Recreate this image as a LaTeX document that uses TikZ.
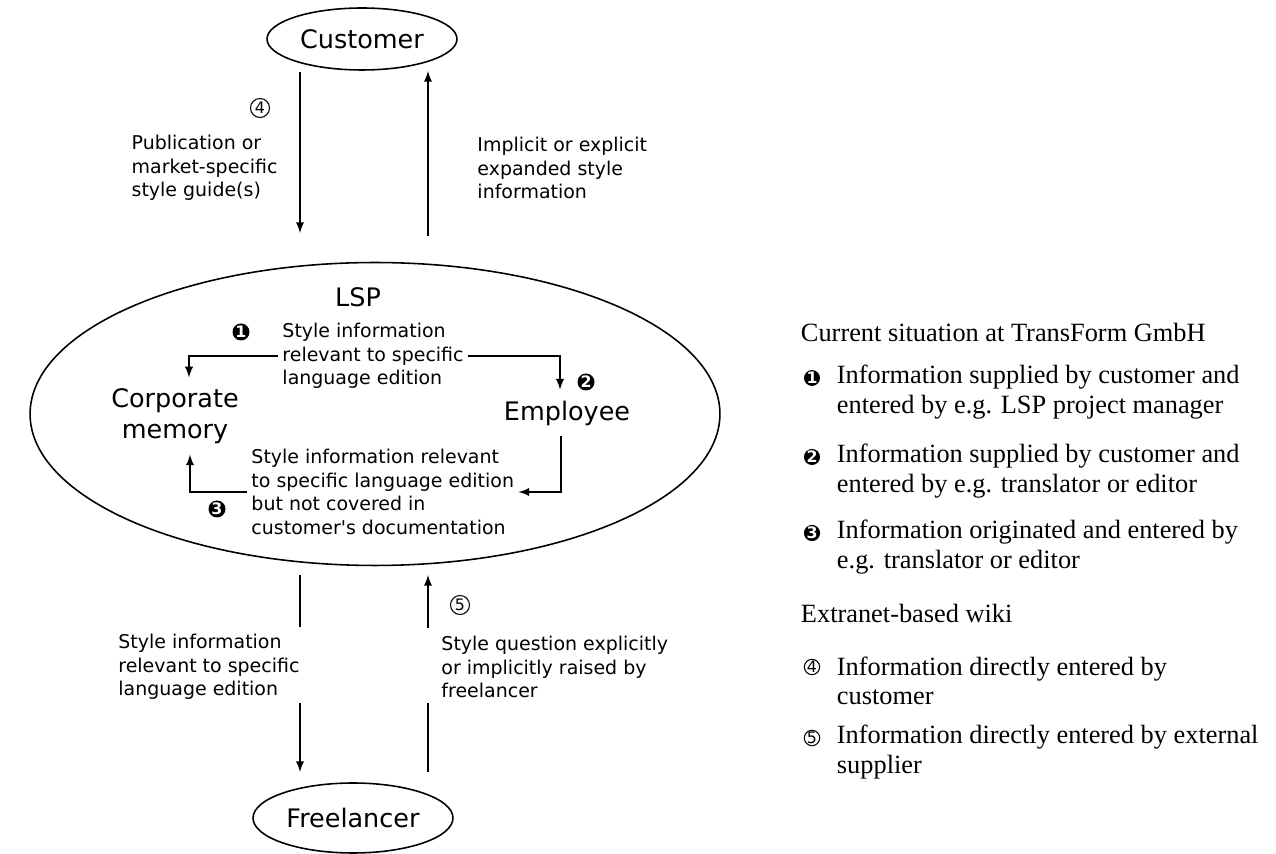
\documentclass[tikz,border=0pt]{standalone}
\usepackage{fontspec}
\setmainfont{Liberation Serif}
\newfontfamily\diagfont{DejaVu Sans}
\usepackage{tikz}
\usetikzlibrary{shapes.geometric}

\begin{document}
\begin{tikzpicture}[x=0.02cm, y=-0.02cm, >=latex, line width=1.1pt,
  party/.style={ellipse, draw, line width=0.9pt, inner sep=0pt, font=\diagfont\fontsize{14.5}{17.6}\selectfont},
  unit/.style={align=center, inner sep=0.2cm, font=\diagfont\fontsize{14.5}{17.6}\selectfont},
  note/.style={align=left, inner sep=2pt, font=\diagfont\fontsize{10.8}{13.4}\selectfont},
  darknum/.style={circle, fill=black, text=white, inner sep=0pt, minimum size=0.34cm, font=\diagfont\bfseries\fontsize{9}{9}\selectfont},
  lightnum/.style={circle, draw, line width=0.6pt, inner sep=0pt, minimum size=0.38cm, font=\diagfont\fontsize{9}{9}\selectfont},
  legend/.style={anchor=west, align=left, inner sep=0pt, font=\fontsize{15}{16.7}\selectfont}]
\useasboundingbox (0,0) rectangle (1276,854);

% the three parties
\node [party, minimum width=3.8cm, minimum height=1.24cm] (cust) at (362,39) {Customer};
\node [party, minimum width=13.8cm, minimum height=6.06cm] (lsp) at (375,414) {};
\node [party, minimum width=4cm, minimum height=1.4cm] (free) at (353,818) {Freelancer};
\node [unit, inner sep=0pt] (lsplabel) at (358,297) {LSP};

% inside the LSP
\node [unit] (corp) at (175,416) {Corporate\\memory};
\node [unit] (emp) at (567,413) {Employee};
\node [note, anchor=west] (info1) at (278,356) {Style information\\relevant to specific\\language edition};
\node [note, anchor=west] (info3) at (247,492) {Style information relevant\\to specific language edition\\but not covered in\\customer's documentation};
\node [darknum] (n1) at (241,332) {1};
\node [darknum] (n2) at (586,382) {2};
\node [darknum] (n3) at (217,509) {3};
\draw [->] (info1.west) -| ([xshift=0.28cm]corp.north);
\draw [->] (info1.east) -| ([xshift=-0.14cm]emp.north);
\draw [->] ([xshift=-0.12cm]emp.south) |- (info3.east);
\draw [->] (info3.west) -| ([xshift=0.3cm]corp.south);

% customer and LSP
\coordinate (a1) at (300,72);
\coordinate (a2) at (300,233);
\coordinate (b1) at (428,236);
\coordinate (b2) at (428,71);
\draw [->] (a1) -- (a2);
\draw [->] (b1) -- (b2);
\node [lightnum] (n4) at (260,108) {4};
\node [note, anchor=east] (pub) at (282,168) {Publication or\\market-specific\\style guide(s)};
\node [note, anchor=west] (impl) at (473,168) {Implicit or explicit\\expanded style\\information};

% LSP and freelancer
\coordinate (c1) at (300,575);
\coordinate (c2) at (300,627);
\coordinate (c3) at (300,703);
\coordinate (c4) at (300,772);
\draw (c1) -- (c2);
\draw [->] (c3) -- (c4);
\coordinate (d1) at (428,772);
\coordinate (d2) at (428,703);
\coordinate (d3) at (428,628);
\coordinate (d4) at (428,575);
\draw (d1) -- (d2);
\draw [->] (d3) -- (d4);
\node [lightnum] (n5) at (460,605) {5};
\node [note, anchor=east] (rel) at (304,667) {Style information\\relevant to specific\\language edition};
\node [note, anchor=west] (quest) at (437,667) {Style question explicitly\\or implicitly raised by\\freelancer};

% key
\node [legend] (cur) at (800,332) {Current situation at TransForm GmbH};
\node [darknum, minimum size=0.3cm] (k1) at (812,378) {1};
\node [legend] (t1) at (836,392) {Information supplied by customer and\\entered by e.g. LSP project manager};
\node [darknum, minimum size=0.3cm] (k2) at (812,457) {2};
\node [legend] (t2) at (836,471) {Information supplied by customer and\\entered by e.g. translator or editor};
\node [darknum, minimum size=0.3cm] (k3) at (812,533) {3};
\node [legend] (t3) at (836,547) {Information originated and entered by\\e.g. translator or editor};
\node [legend] (ext) at (800,613) {Extranet-based wiki};
\node [lightnum, minimum size=0.3cm] (k4) at (812,667) {4};
\node [legend] (t4) at (836,681) {Information directly entered by\\customer};
\node [lightnum, minimum size=0.3cm] (k5) at (812,738) {5};
\node [legend] (t5) at (836,752) {Information directly entered by external\\supplier};
\end{tikzpicture}
\end{document}
